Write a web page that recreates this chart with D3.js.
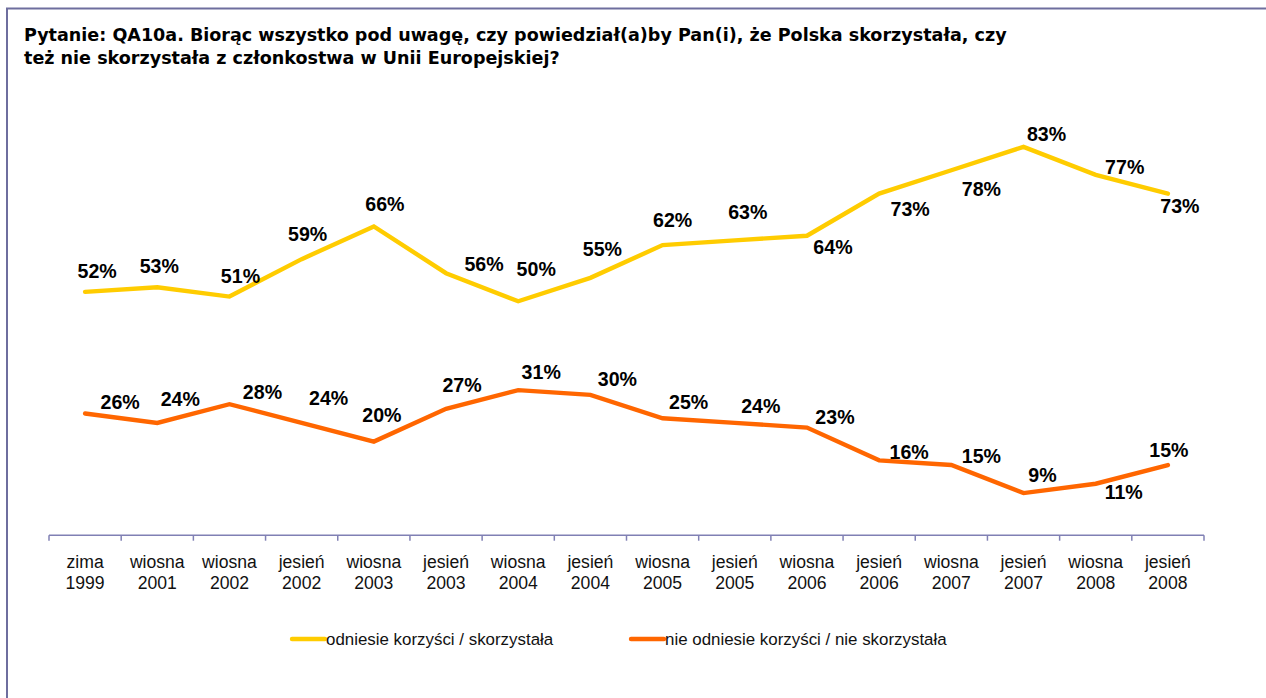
<!DOCTYPE html>
<html><head><meta charset="utf-8">
<script src="https://cdn.jsdelivr.net/npm/d3@7"></script>
<style>body{margin:0;background:#fff;overflow:hidden} svg{display:block}</style>
</head><body><svg id="c" width="1266" height="698"></svg>
<script>
const titleLines = [
  "Pytanie: QA10a. Biorąc wszystko pod uwagę, czy powiedział(a)by Pan(i), że Polska skorzystała, czy",
  "też nie skorzystała z członkostwa w Unii Europejskiej?"
];
const categories = ["zima 1999","wiosna 2001","wiosna 2002","jesień 2002","wiosna 2003","jesień 2003","wiosna 2004","jesień 2004","wiosna 2005","jesień 2005","wiosna 2006","jesień 2006","wiosna 2007","jesień 2007","wiosna 2008","jesień 2008"];
const benefit   = [52,53,51,59,66,56,50,55,62,63,64,73,78,83,77,73];
const noBenefit = [26,24,28,24,20,27,31,30,25,24,23,16,15,9,11,15];
const seriesNames = ["odniesie korzyści / skorzystała","nie odniesie korzyści / nie skorzystała"];
const seriesColors = ["#FFCC00","#FF6600"];

// label placement (layout only)
const benefitLabelOffsets = [[12,-21],[2,-21],[11,-21],[6,-25],[11,-22],[38,-9],[18,-32],[12,-29],[10,-25],[13,-28],[26,11],[31,15],[30,19],[23,-13],[29,-8],[12,12]];
const noBenefitLabelOffsets = [[35,-12],[23,-24],[33,-12],[27,-25],[8,-27],[16,-24],[23,-18],[27,-16],[26,-16],[26,-17],[28,-11],[30,-8],[30,-9],[19,-18],[28,8],[1,-15]];

const svg = d3.select("#c");
const W = 1266, H = 698;

// frame
svg.append("path").attr("d", `M7,${H+5} L7,8.5 L${W+5},8.5`)
  .attr("fill","none").attr("stroke","#6e6e9e").attr("stroke-width",2);

// title
const title = svg.append("g").attr("font-family","DejaVu Sans, Verdana, sans-serif")
  .attr("font-weight","bold").attr("fill","#000");
const t1 = title.append("text").attr("x",24).attr("y",41).attr("font-size",16).text(titleLines[0]);
const targetW = 983;
const fs = 16 * targetW / t1.node().getComputedTextLength();
t1.attr("font-size", fs);
title.append("text").attr("x",24).attr("y",64).attr("font-size",fs).text(titleLines[1]);

// scales
const x = d3.scaleBand().domain(categories).range([49,1204]).padding(0);
const y = d3.scaleLinear().domain([0,100]).range([535.2,67.3]);
const cx = c => x(c) + x.bandwidth()/2;

// axis
const axisColor = "#8080b4";
const ax = svg.append("g");
ax.append("line").attr("x1",x.range()[0]).attr("x2",x.range()[1])
  .attr("y1",y(0)).attr("y2",y(0)).attr("stroke",axisColor).attr("stroke-width",1.5);
const bounds = categories.map(c => x(c)).concat([x.range()[1]]);
ax.selectAll("line.tick").data(bounds).join("line").attr("class","tick")
  .attr("x1",d=>d).attr("x2",d=>d).attr("y1",y(0)).attr("y2",y(0)+5.5)
  .attr("stroke",axisColor).attr("stroke-width",1.5);
const tl = ax.selectAll("text").data(categories).join("text")
  .attr("font-family","Liberation Sans, Arial, sans-serif").attr("font-size",17.6)
  .attr("fill","#111").attr("text-anchor","middle");
tl.each(function(c){
  const parts = c.split(" ");
  const s = d3.select(this);
  parts.forEach((p,i)=> s.append("tspan").attr("x",cx(c)).attr("y",567.5+i*21.8).text(p));
});

// lines
const line = d3.line().x((d,i)=>cx(categories[i])).y(d=>y(d));
[benefit,noBenefit].forEach((s,k)=>{
  svg.append("path").datum(s).attr("d",line).attr("fill","none")
    .attr("stroke",seriesColors[k]).attr("stroke-width",4.4)
    .attr("stroke-linejoin","miter").attr("stroke-linecap","round");
});

// data labels
[[benefit,benefitLabelOffsets],[noBenefit,noBenefitLabelOffsets]].forEach(([s,off])=>{
  svg.append("g").selectAll("text").data(s).join("text")
    .attr("font-family","Liberation Sans, Arial, sans-serif").attr("font-weight","bold")
    .attr("font-size",19.6).attr("fill","#000").attr("text-anchor","middle")
    .attr("x",(d,i)=>cx(categories[i])+off[i][0])
    .attr("y",(d,i)=>y(d)+off[i][1]+7)
    .text(d=>d+"%");
});

// legend
const leg = svg.append("g").attr("font-family","Liberation Sans, Arial, sans-serif").attr("font-size",16.9).attr("fill","#111");
const legX = [292, 631];
seriesNames.forEach((n,k)=>{
  leg.append("line").attr("x1",legX[k]).attr("x2",legX[k]+33).attr("y1",639).attr("y2",639)
    .attr("stroke",seriesColors[k]).attr("stroke-width",4.4).attr("stroke-linecap","round");
  leg.append("text").attr("x",legX[k]+34).attr("y",645).text(n);
});
</script></body></html>
